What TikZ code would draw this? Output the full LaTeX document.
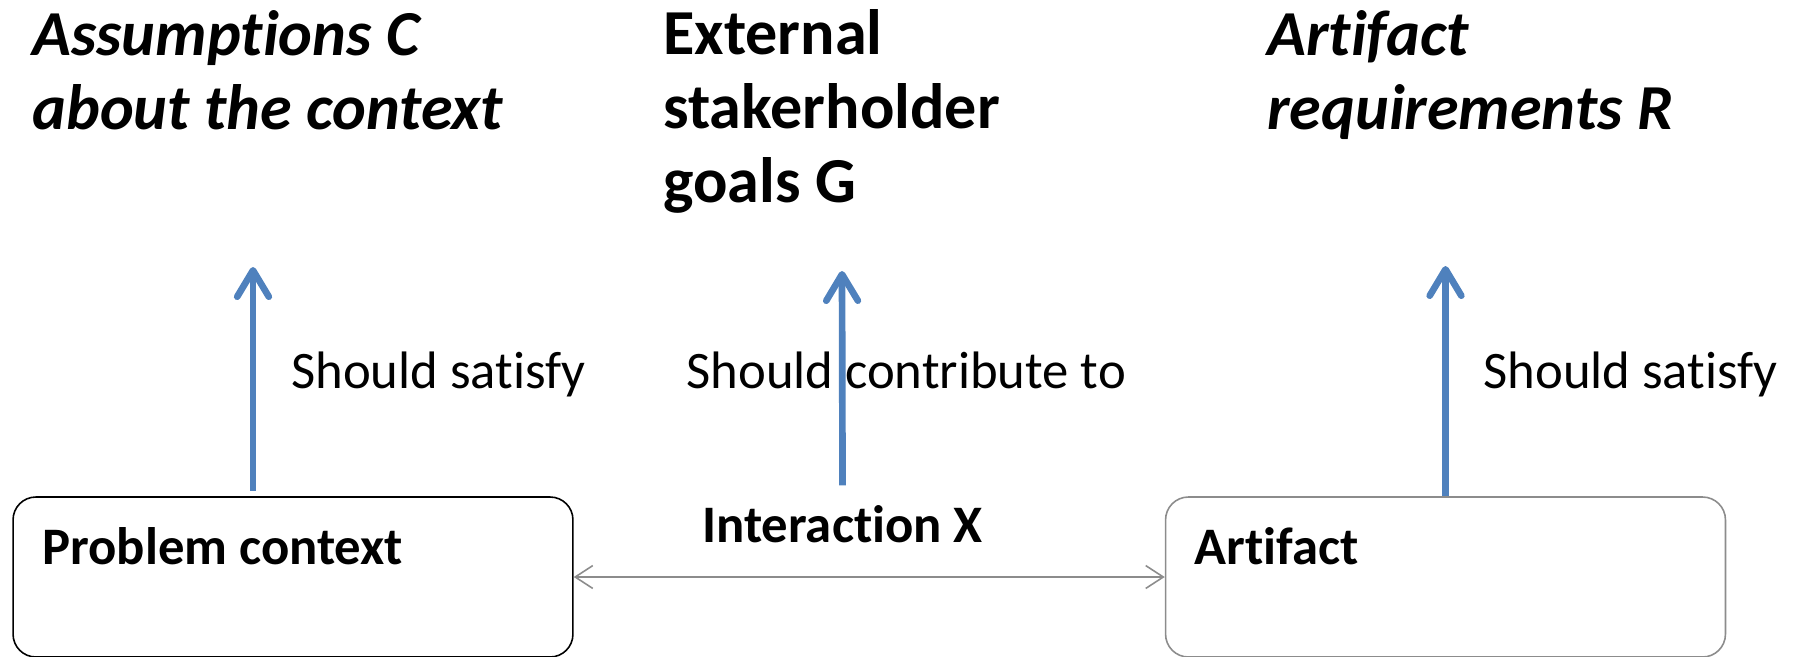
\documentclass[tikz,border=0pt]{standalone}
\usepackage{fontspec}
\setmainfont{Carlito}[Ligatures=CommonOff]
\usetikzlibrary{positioning,arrows.meta}
\definecolor{accent}{HTML}{4F81BD}
\definecolor{linkgray}{HTML}{8C8C8C}

\begin{document}
\begin{tikzpicture}[
	x=0.02cm, y=-0.02cm,
	heading/.style={anchor=base west, inner sep=0pt, align=left, font=\fontsize{36.5}{42}\selectfont\bfseries},
	note/.style={anchor=base west, inner sep=0pt, font=\fontsize{30}{36}\selectfont},
	box/.style={rectangle, rounded corners=13pt, draw=black, line width=0.9pt, minimum width=11.2cm, minimum height=3.2cm},
	boxtitle/.style={anchor=base west, inner sep=0pt, font=\fontsize{30}{36}\selectfont\bfseries},
	satisfy/.style={-{Straight Barb[length=15pt,width=18pt,round]}, line width=3.8pt, draw=accent},
	link/.style={{Straight Barb[length=10pt,width=13pt]}-{Straight Barb[length=10pt,width=13pt]}, line width=0.9pt, draw=linkgray}
]
\useasboundingbox (0,0) rectangle (1801,656);
% headings (base = last line)
\node (assume) [heading] at (32,129) {\itshape Assumptions C\\\itshape about the context};
\node (goals) [heading] at (663,202) {External\\stakerholder\\goals G};
\node (reqs) [heading] at (1267,129) {\itshape Artifact\\\itshape requirements R};
% boxes
\node (ctx) [box] at (293,577) {};
\node (art) [box, draw=linkgray] at (1445.5,577) {};
\node (ctxtitle) [boxtitle] at (42,564) {Problem context};
\node (arttitle) [boxtitle] at (1194,564) {Artifact};
\node (inter) [boxtitle] at (702,542) {Interaction X};
% arrow tips
\coordinate (tipC) at (253,267);
\coordinate (tipG) at (842,271);
\coordinate (tipR) at (1445.5,266);
\node (satC) [note] at (291,388) {Should satisfy};
\node (contG) [note] at (686,388) {Should contribute to};
\node (satR) [note] at (1483,388) {Should satisfy};
\draw [satisfy, shorten <=3pt] (tipC |- ctx.north) -- (tipC);
\draw [satisfy, shorten <=11pt] (inter.north) -- (tipG);
\draw [satisfy] (art.north) -- (tipR);
\draw [link] (ctx) -- (art);
\end{tikzpicture}
\end{document}
